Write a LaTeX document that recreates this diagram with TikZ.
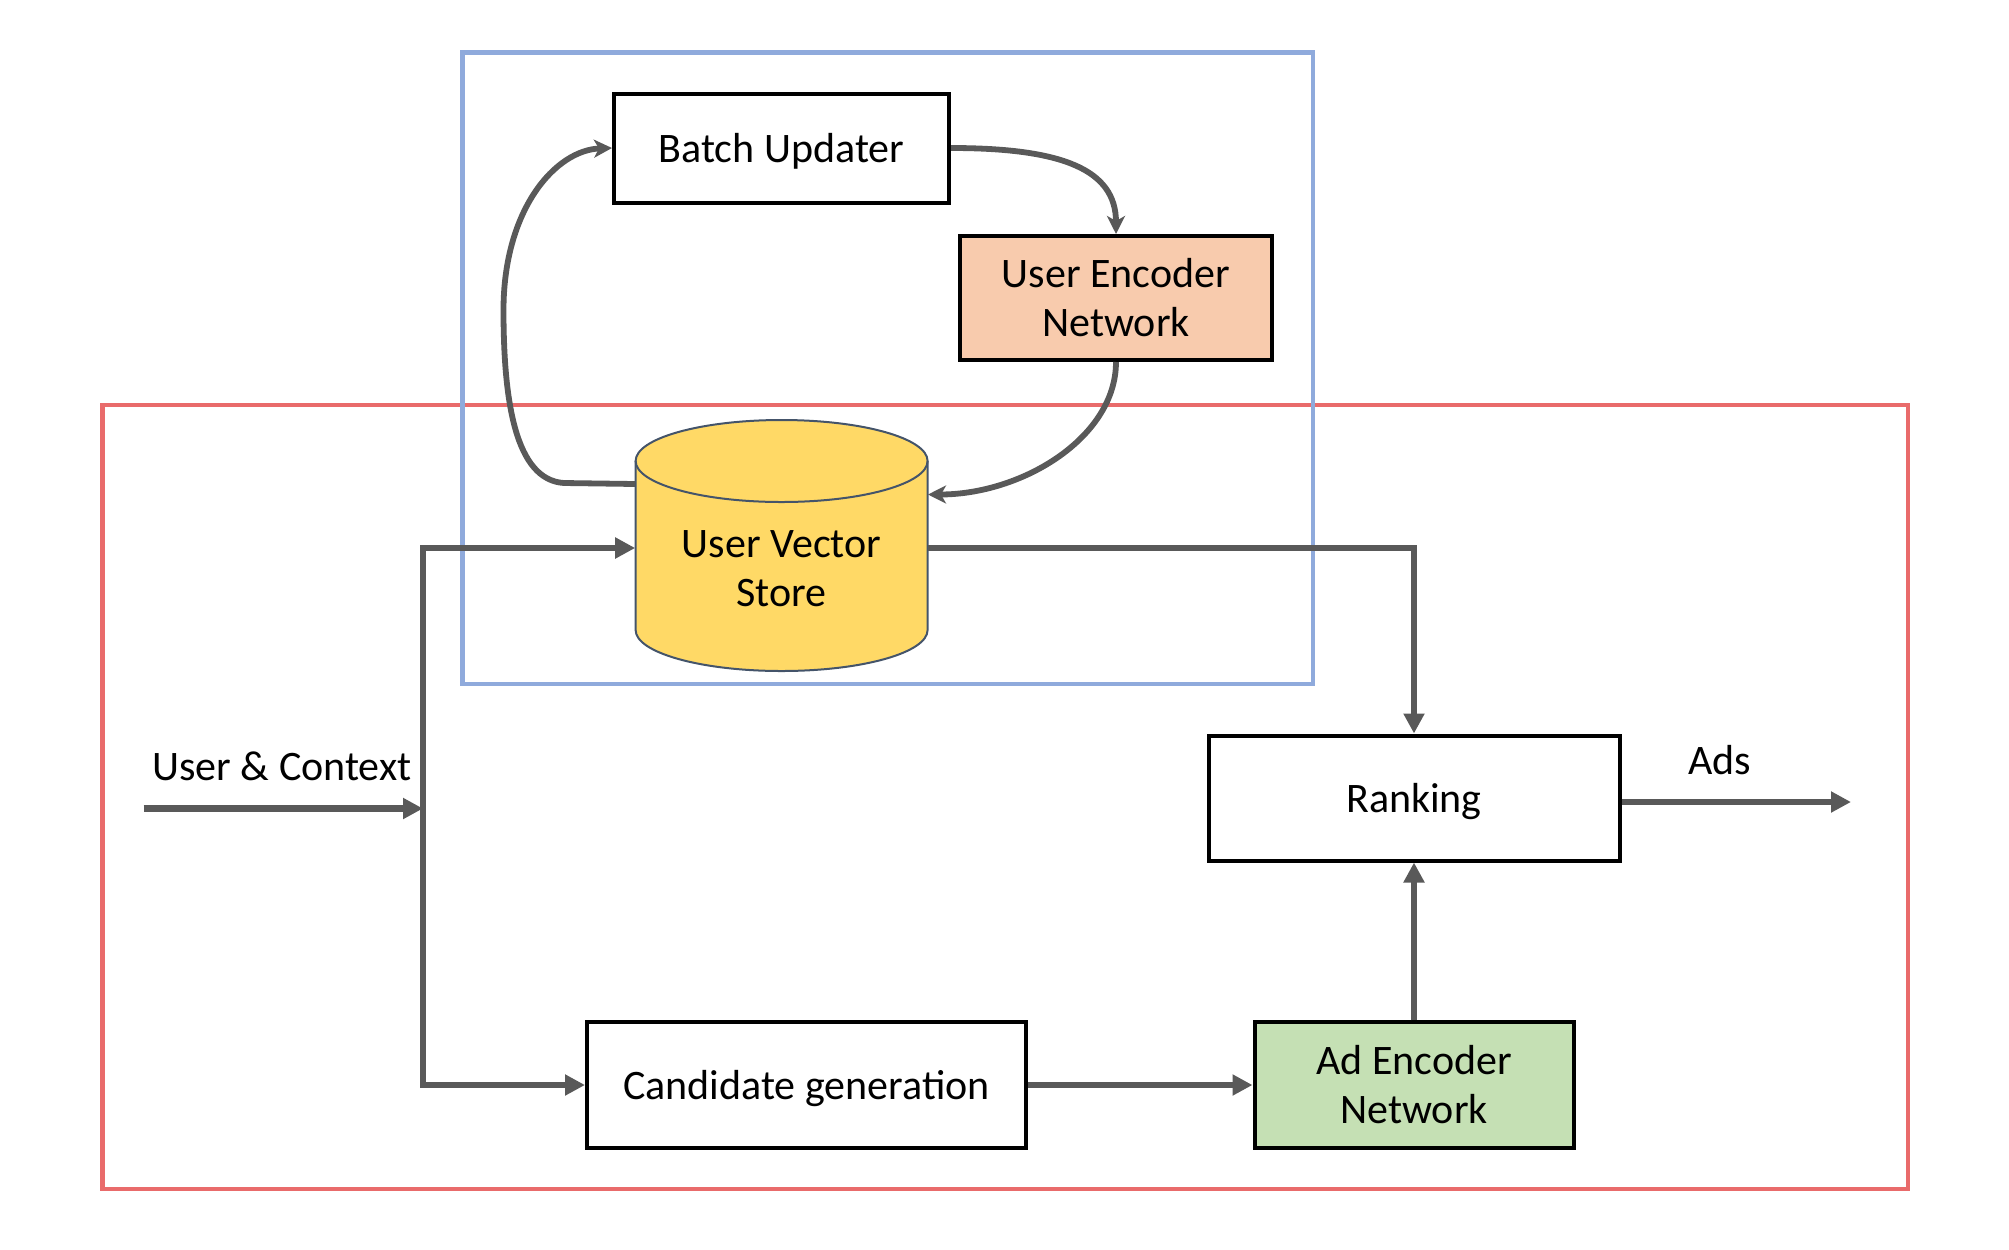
\documentclass[tikz,border=0pt]{standalone}
\usepackage{fontspec}
\setmainfont{Carlito}
\usetikzlibrary{arrows.meta,positioning,calc}
\definecolor{linegray}{HTML}{595959}
\definecolor{frameblue}{HTML}{8FAADC}
\definecolor{framered}{HTML}{E96B6B}
\definecolor{encorange}{HTML}{F8CBAD}
\definecolor{adgreen}{HTML}{C5E0B4}
\definecolor{storeyellow}{HTML}{FFD966}
\definecolor{storeedge}{HTML}{44546A}

\begin{document}
\begin{tikzpicture}[x=0.5pt, y=-0.5pt,
  box/.style={draw, line width=2pt, inner sep=0pt, align=center,
              font=\fontsize{21}{24.5}\selectfont},
  oneline/.style={text height=20pt, text depth=5.6pt},
  storebody/.style={draw=storeedge, line width=1pt, fill=storeyellow},
  frame/.style={line width=2.2pt},
  arr/.style={-{Triangle[length=10pt, width=10pt]}, line width=3.3pt,
              draw=linegray},
  curve/.style={-{Stealth[length=9pt, width=9pt, inset=2.5pt]},
                line width=2.9pt, draw=linegray},
  lab/.style={font=\fontsize{21}{24.5}\selectfont}]
\useasboundingbox (0,0) rectangle (2009,1249);
% frames
\draw[frame, framered] (102.5,405) rectangle (1908,1189);
\draw[frame, frameblue] (462.5,52.5) rectangle (1313,684);
% user vector store (cylinder)
\coordinate (storec) at (781.6,545.5);
\draw[storebody, shift={(storec)}] (-146,-84.5) -- (-146,84.5)
  arc[start angle=180, end angle=360, x radius=73pt, y radius=20.5pt]
  -- (146,-84.5)
  arc[start angle=0, end angle=180, x radius=73pt, y radius=20.5pt]
  -- cycle;
\draw[storebody, fill=none, shift={(storec)}] (-146,-84.5)
  arc[start angle=180, end angle=360, x radius=73pt, y radius=20.5pt];
% blocks
\node[box, oneline, minimum width=167.5pt, minimum height=54.5pt] (batch)
  at (781.5,148) {Batch Updater};
\node[box, fill=encorange, minimum width=156pt, minimum height=62pt] (enc)
  at (1116,298) {User Encoder\\Network};
\node[minimum width=146pt, minimum height=125.5pt, inner sep=0pt,
      label={[lab, align=center, yshift=-11.75pt]center:User Vector\\Store}]
  (store) at (storec) {};
\node[box, oneline, minimum width=205.5pt, minimum height=62.5pt] (rank)
  at (1414,798) {Ranking};
\node[box, oneline, minimum width=219.5pt, minimum height=62.75pt] (cand)
  at (806.5,1085) {Candidate generation};
\node[box, fill=adgreen, minimum width=159.5pt, minimum height=62.75pt] (ad)
  at (rank |- cand) {Ad Encoder\\Network};
\coordinate (ucin) at (143.5,808.5);
\coordinate (split) at (423,808.5);
\coordinate (storein) at ($(store.west)+(0,2.5)$);
\coordinate (storeout) at ($(store.east)+(0,2.5)$);
\coordinate (rankout) at ($(rank.east)+(0,4)$);
\coordinate (adsout) at ($(rankout)+(229.5,0)$);
\node[lab] (uclab) at (282,766) {User \& Context};
\node[lab] (adslab) at (1719.5,760) {Ads};
% connectors
\draw[arr] (ucin) -- (split);
\draw[arr] (split) |- (storein);
\draw[arr] (split) |- (cand.west);
\draw[arr] (cand) -- (ad);
\draw[arr] (ad) -- (rank);
\draw[arr] (storeout) -| (rank.north);
\draw[arr] (rankout) -- (adsout);
\draw[curve] (batch.east) .. controls +(110,0) and +(0,-65) .. (enc.north);
\draw[curve] (enc.south) .. controls +(0,75) and +(95,0)
  .. ($(store.east)+(0,-51)$);
\draw[curve] ($(store.west)+(0,-61.5)$) -- (564,483)
  .. controls (515,480) and (503.5,400) .. (503.5,310)
  .. controls (503.5,210) and (555,150) .. (batch.west);
\end{tikzpicture}
\end{document}
